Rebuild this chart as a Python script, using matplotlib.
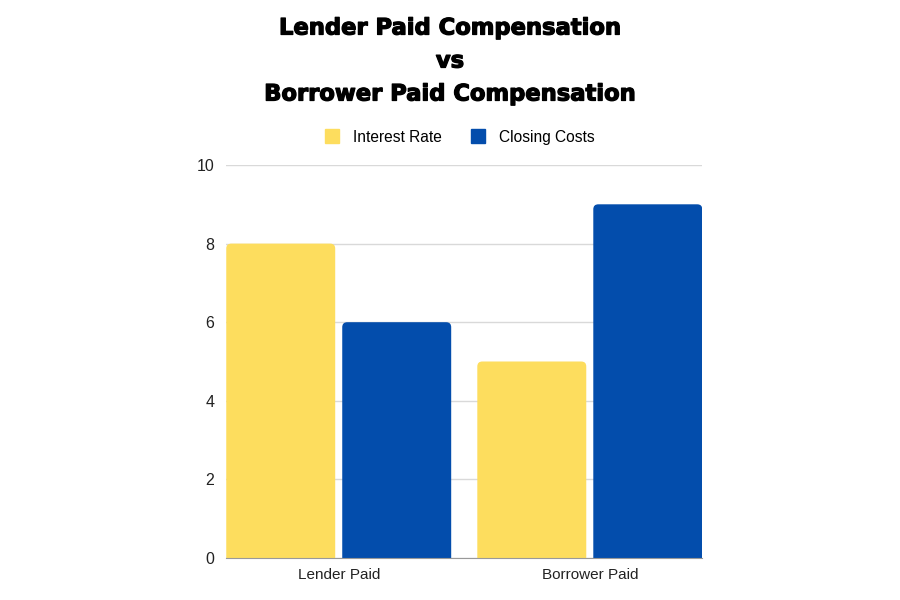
import numpy as np
import matplotlib.pyplot as plt
import matplotlib.patheffects as pe
from matplotlib.patches import FancyBboxPatch, Patch

# Dados
categorias = ['Lender Paid', 'Borrower Paid']
series = ['Interest Rate', 'Closing Costs']
interest_rate = [8, 5]
closing_costs = [6, 9]
cores = ['#FDDD5E', '#034DAC']

plt.rcParams['font.family'] = ['Liberation Sans', 'DejaVu Sans']

fig = plt.figure(figsize=(9, 6), dpi=100)
ax = fig.add_axes([226/900, 42/600, 476/900, 393/600])

x = np.arange(len(categorias))
w = 0.434
off = 0.231

b1 = ax.bar(x - off, interest_rate, w, color=cores[0], label=series[0], zorder=3)
b2 = ax.bar(x + off, closing_costs, w, color=cores[1], label=series[1], zorder=3)

# cantos arredondados no topo
r = 0.02
for bars in (b1, b2):
    for b in bars:
        bx, by = b.get_x(), b.get_y()
        bw, bh = b.get_width(), b.get_height()
        p = FancyBboxPatch((bx + r, by - 1), bw - 2*r, bh + 1 - r*6.3,
                           boxstyle=f'round,pad={r}', mutation_aspect=6.3,
                           fc=b.get_facecolor(), ec='none', zorder=3)
        ax.add_patch(p)
        b.set_visible(False)

ax.set_xlim(-0.449, 1.447)
ax.set_ylim(0, 10)
ax.set_yticks([0, 2, 4, 6, 8, 10])
ax.set_xticks(x)
ax.set_xticklabels(categorias)
ax.grid(axis='y', color='#d9d9d9', lw=1, zorder=0)
for s in ['top', 'right', 'left']:
    ax.spines[s].set_visible(False)
ax.spines['bottom'].set_color('#999999')
ax.spines['bottom'].set_zorder(4)
ax.tick_params(axis='both', length=0, labelsize=11, colors='#222222')
ax.tick_params(axis='y', labelsize=11.5, pad=8.5)
ax.tick_params(axis='x', pad=7)

# legenda
handles = [Patch(color=cores[0]), Patch(color=cores[1])]
fig.legend(handles, series, loc='center', bbox_to_anchor=(0.5 + 10/900, 1 - 137/600),
           ncol=2, frameon=False, fontsize=11.2, handlelength=0.9, handleheight=1.0,
           columnspacing=1.9, handletextpad=0.9)

# titulo
for txt, yy in [('Lender Paid Compensation', 28), ('vs', 61), ('Borrower Paid Compensation', 94)]:
    fig.text(0.5, 1 - yy/600, txt, ha='center', va='center', fontsize=16.3,
             fontweight='bold', family='DejaVu Sans', color='black',
             path_effects=[pe.withStroke(linewidth=0.9, foreground='black')])

plt.savefig('out.png')
